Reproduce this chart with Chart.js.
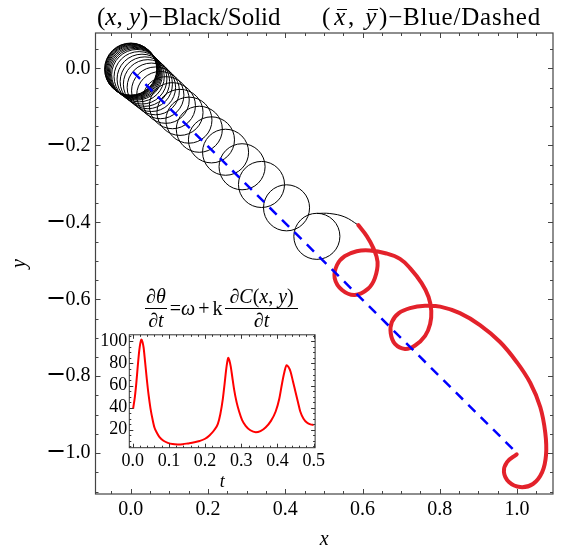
<!DOCTYPE html>
<html><head><meta charset="utf-8">
<script src="https://cdn.jsdelivr.net/npm/chart.js@4.4.0/dist/chart.umd.min.js"></script>
<style>
@font-face{font-family:'MinusFace';src:local('DejaVu Serif'),local('DejaVuSerif');unicode-range:U+2212;size-adjust:118%;}
html,body{margin:0;padding:0;background:#fff;}
#wrap{position:relative;width:561px;height:553px;overflow:hidden;font-family:"Liberation Serif","Times New Roman",serif;color:#000;}
canvas{position:absolute;}
.hdr{position:absolute;font-size:25px;white-space:nowrap;line-height:1;font-family:"Liberation Serif","Times New Roman",serif;}
i{font-style:italic;}
.ov{position:relative;display:inline-block;margin:0 2px 0 3px;}
.ov::before{content:'';position:absolute;left:0.12em;right:-0.02em;top:0.2em;border-top:1.2px solid #000;}
#formula{position:absolute;left:145px;top:287px;font-size:20px;display:flex;align-items:center;white-space:nowrap;line-height:0.95;}
.frac{display:inline-flex;flex-direction:column;align-items:center;}
.num{border-bottom:1px solid #000;padding:0 1px 2px 1px;}
.num.wide{padding:0 4px 2px 4px;}
.den{padding-top:2px;}
.op{margin:0 3px;}
.sp{margin:0 3px;}
</style></head>
<body>
<div id="wrap">
  <canvas id="main" width="561" height="553" style="left:0;top:0;"></canvas>
  <canvas id="inset" width="240" height="178" style="left:88px;top:322px;"></canvas>
  <div class="hdr" style="left:97px;top:4px;">(<i>x</i>, <i>y</i>)−Black/Solid</div>
  <div class="hdr" style="left:322px;top:4px;letter-spacing:0.8px;">(<i class="ov">x</i>, <i class="ov">y</i>)−Blue/Dashed</div>
  <div id="formula">
    <span class="frac"><span class="num">∂<i>θ</i></span><span class="den">∂<i>t</i></span></span>
    <span class="op">=<i>ω</i><span class="sp">+</span>k</span>
    <span class="frac"><span class="num wide">∂<i>C</i>(<i>x</i>, <i>y</i>)</span><span class="den">∂<i>t</i></span></span>
  </div>
</div>
<script>
// ---------- data ----------
// early trajectory loops (black): centres and radii (data units)
const loopCx = [0.0000, 0.0008, 0.0018, 0.0031, 0.0047, 0.0065, 0.0085, 0.0109, 0.0135, 0.0163, 0.0220, 0.0293, 0.0368, 0.0446, 0.0536, 0.0642, 0.0767, 0.0912, 0.1080, 0.1277, 0.1508, 0.1777, 0.2091, 0.2456, 0.2883, 0.3386, 0.4034, 0.4819];
const loopCy = [-0.0018, -0.0026, -0.0034, -0.0047, -0.0060, -0.0075, -0.0096, -0.0117, -0.0140, -0.0166, -0.0216, -0.0278, -0.0343, -0.0410, -0.0491, -0.0584, -0.0694, -0.0821, -0.0969, -0.1143, -0.1345, -0.1582, -0.1857, -0.2179, -0.2556, -0.3016, -0.3623, -0.4364];
const loopR  = [0.0674, 0.0674, 0.0674, 0.0671, 0.0668, 0.0666, 0.0663, 0.0661, 0.0658, 0.0655, 0.0650, 0.0645, 0.0640, 0.0635, 0.0627, 0.0619, 0.0611, 0.0604, 0.0596, 0.0596, 0.0596, 0.0596, 0.0596, 0.0596, 0.0596, 0.0596, 0.0596, 0.0596];
// black arc leaving the last loop
const bridgeX = [0.4819, 0.5155, 0.5544, 0.5889];
const bridgeY = [-0.3768, -0.3771, -0.3862, -0.4070];
// late trajectory (red)
const redX = [0.589, 0.611, 0.628, 0.639, 0.632, 0.614, 0.580, 0.547, 0.528, 0.534, 0.554, 0.585, 0.619, 0.662, 0.697, 0.723, 0.753, 0.771, 0.778, 0.775, 0.762, 0.736, 0.710, 0.684, 0.673, 0.676, 0.694, 0.723, 0.762, 0.801, 0.852, 0.904, 0.956, 0.999, 1.034, 1.060, 1.073, 1.075, 1.065, 1.041, 1.008, 0.979, 0.966, 0.974, 0.999];
const redY = [-0.407, -0.436, -0.467, -0.503, -0.545, -0.573, -0.589, -0.576, -0.545, -0.511, -0.488, -0.475, -0.473, -0.481, -0.495, -0.519, -0.558, -0.594, -0.630, -0.664, -0.695, -0.720, -0.729, -0.716, -0.688, -0.659, -0.636, -0.623, -0.617, -0.619, -0.636, -0.667, -0.711, -0.763, -0.817, -0.880, -0.947, -1.004, -1.049, -1.080, -1.088, -1.075, -1.049, -1.023, -1.003];
// mean position (blue dashed)
const meanX = [0.006, 1.000];
const meanY = [-0.009, -1.000];
// axis tick labels
const xTickLabels = [0.0, 0.2, 0.4, 0.6, 0.8, 1.0];
const yTickLabels = [-1.0, -0.8, -0.6, -0.4, -0.2, 0.0];
// inset: dtheta/dt versus t
const insetT    = [0.001, 0.006, 0.010, 0.014, 0.018, 0.021, 0.024, 0.027, 0.030, 0.034, 0.039, 0.044, 0.049, 0.055, 0.060, 0.067, 0.074, 0.085, 0.097, 0.110, 0.124, 0.138, 0.152, 0.170, 0.185, 0.200, 0.212, 0.225, 0.235, 0.242, 0.249, 0.254, 0.258, 0.261, 0.264, 0.267, 0.271, 0.275, 0.280, 0.287, 0.294, 0.302, 0.312, 0.325, 0.340, 0.353, 0.367, 0.382, 0.395, 0.405, 0.413, 0.419, 0.425, 0.430, 0.436, 0.443, 0.450, 0.457, 0.463, 0.472, 0.482, 0.491, 0.500];
const insetRate = [38.9, 50.0, 62.6, 78.0, 91.6, 98.5, 101.7, 99.5, 94.5, 82.0, 65.5, 51.0, 39.4, 29.0, 22.0, 17.0, 13.3, 10.0, 8.1, 7.0, 6.7, 6.9, 7.6, 8.6, 9.8, 11.8, 14.8, 19.5, 25.0, 34.0, 48.0, 62.0, 74.0, 81.0, 85.2, 83.0, 77.0, 68.0, 56.8, 45.0, 36.5, 29.0, 23.5, 19.5, 17.7, 18.8, 22.0, 28.0, 36.5, 48.0, 62.6, 72.0, 78.5, 77.0, 72.8, 63.5, 53.9, 44.5, 36.5, 30.0, 26.3, 24.8, 24.3];
const insetTTicks = [0.0, 0.1, 0.2, 0.3, 0.4, 0.5];
const insetRateTicks = [20, 40, 60, 80, 100];

// ---------- drawing ----------
const SERIF = "MinusFace, 'Liberation Serif', 'Times New Roman', serif";
const zip = (a, b) => a.map((v, i) => ({x: v, y: b[i]}));
const fmt1 = v => (v < -1e-9 ? '\u2212' : '') + Math.abs(v).toFixed(1);

const framePlugin = {
  id: 'frameTicks',
  afterDraw(chart, args, o) {
    const {ctx, chartArea: a, scales: {x, y}} = chart;
    ctx.save();
    ctx.strokeStyle = o.color;
    ctx.lineWidth = 1;
    ctx.beginPath();
    const isMajor = (v, m) => Math.abs(v / m - Math.round(v / m)) < 1e-6;
    const k0x = Math.ceil(x.min / o.xMinor - 1e-9), k1x = Math.floor(x.max / o.xMinor + 1e-9);
    for (let k = k0x; k <= k1x; k++) {
      const v = k * o.xMinor;
      const len = isMajor(v, o.xMajor) ? o.major : o.minor;
      const px = Math.round(x.getPixelForValue(v)) + 0.5;
      ctx.moveTo(px, a.bottom); ctx.lineTo(px, a.bottom - len);
      ctx.moveTo(px, a.top); ctx.lineTo(px, a.top + len);
    }
    const k0y = Math.ceil(y.min / o.yMinor - 1e-9), k1y = Math.floor(y.max / o.yMinor + 1e-9);
    for (let k = k0y; k <= k1y; k++) {
      const v = k * o.yMinor;
      const len = isMajor(v, o.yMajor) ? o.major : o.minor;
      const py = Math.round(y.getPixelForValue(v)) + 0.5;
      ctx.moveTo(a.left, py); ctx.lineTo(a.left + len, py);
      ctx.moveTo(a.right, py); ctx.lineTo(a.right - len, py);
    }
    ctx.stroke();
    ctx.lineWidth = o.frameWidth;
    ctx.strokeRect(a.left, a.top, a.right - a.left, a.bottom - a.top);
    ctx.restore();
  }
};

function build() {
  Chart.defaults.animation = false;
  Chart.defaults.color = '#000';

  const loops = loopCx.map((cx, i) => ({x: cx, y: loopCy[i], r: loopR[i]}));
  const radiusPx = c => {
    const s = c.chart.scales.x;
    const r = c.raw ? c.raw.r : 0;
    return Math.abs(s.getPixelForValue(r) - s.getPixelForValue(0));
  };

  new Chart(document.getElementById('main'), {
    type: 'scatter',
    data: {
      datasets: [
        {label: 'mean', data: zip(meanX, meanY), showLine: true, borderColor: '#0000ff', borderWidth: 2.5,
         borderDash: [10, 7.5], pointRadius: 0, fill: false},
        {label: 'late', data: zip(redX, redY), showLine: true, borderColor: '#e3222b', borderWidth: 4,
         tension: 0.4, pointRadius: 0, fill: false, borderCapStyle: 'round', borderJoinStyle: 'round'},
        {label: 'bridge', data: zip(bridgeX, bridgeY), showLine: true, borderColor: '#000', borderWidth: 1,
         tension: 0.4, pointRadius: 0, fill: false},
        {label: 'loops', data: loops, showLine: false, pointStyle: 'circle',
         pointBackgroundColor: 'rgba(0,0,0,0)', pointBorderColor: '#000', pointBorderWidth: 1,
         pointRadius: radiusPx, pointHoverRadius: radiusPx}
      ]
    },
    options: {
      responsive: false,
      devicePixelRatio: 1,
      events: [],
      layout: {padding: {top: 33, right: 8, left: 0, bottom: 0}},
      plugins: {legend: {display: false}, tooltip: {enabled: false},
        frameTicks: {color: '#444', frameWidth: 1.2, xMinor: 0.05, xMajor: 0.2, yMinor: 0.05, yMajor: 0.2, major: 5, minor: 3}},
      scales: {
        x: {type: 'linear', min: -0.091, max: 1.093,
            afterBuildTicks: s => { s.ticks = xTickLabels.map(v => ({value: v})); },
            afterFit: s => { s.height = 59; },
            grid: {display: false, drawTicks: false}, border: {display: false},
            ticks: {padding: 4, autoSkip: false, maxRotation: 0, font: {family: SERIF, size: 20}, color: '#000', callback: v => fmt1(v)},
            title: {display: true, text: 'x', color: '#000', font: {family: SERIF, size: 20, style: 'italic'}, padding: {top: 0, bottom: 1}}},
        y: {type: 'linear', min: -1.106, max: 0.092,
            afterBuildTicks: s => { s.ticks = yTickLabels.map(v => ({value: v})); },
            afterFit: s => { s.width = 95.5; },
            grid: {display: false, drawTicks: false}, border: {display: false},
            ticks: {padding: 5, autoSkip: false, font: {family: SERIF, size: 20}, color: '#000', callback: v => fmt1(v)},
            title: {display: true, text: 'y', color: '#000', font: {family: SERIF, size: 20, style: 'italic'}, padding: {top: 8, bottom: 0}}}
      }
    },
    plugins: [framePlugin]
  });

  new Chart(document.getElementById('inset'), {
    type: 'line',
    data: {
      datasets: [{label: 'rate', data: zip(insetT, insetRate), borderColor: '#ff0000', borderWidth: 2,
        cubicInterpolationMode: 'monotone', pointRadius: 0, fill: false}]
    },
    options: {
      responsive: false,
      devicePixelRatio: 1,
      events: [],
      layout: {padding: {top: 8, right: 11.3, left: 0, bottom: 0}},
      plugins: {legend: {display: false}, tooltip: {enabled: false},
        frameTicks: {color: '#333', frameWidth: 1, xMinor: 0.02, xMajor: 0.1, yMinor: 5, yMajor: 20, major: 4, minor: 2}},
      scales: {
        x: {type: 'linear', min: -0.0095, max: 0.504,
            afterBuildTicks: s => { s.ticks = insetTTicks.map(v => ({value: v})); },
            afterFit: s => { s.height = 52.3; },
            grid: {display: false, drawTicks: false}, border: {display: false},
            ticks: {padding: 3, autoSkip: false, maxRotation: 0, font: {family: SERIF, size: 18}, color: '#000', callback: v => v.toFixed(1)},
            title: {display: true, text: 't', color: '#000', font: {family: SERIF, size: 18, style: 'italic'}, padding: {top: 0, bottom: 7}}},
        y: {type: 'linear', min: 3.7, max: 106,
            afterBuildTicks: s => { s.ticks = insetRateTicks.map(v => ({value: v})); },
            afterFit: s => { s.width = 41.3; },
            grid: {display: false, drawTicks: false}, border: {display: false},
            ticks: {padding: 2, autoSkip: false, font: {family: SERIF, size: 18}, color: '#000', callback: v => String(Math.round(v))}}
      }
    },
    plugins: [framePlugin]
  });
}

let built = false;
const go = () => { if (!built) { built = true; build(); } };
if (document.fonts && document.fonts.load) {
  document.fonts.load('20px MinusFace', '\u2212').then(go, go);
  setTimeout(go, 300);
} else { go(); }
</script>
</body></html>
